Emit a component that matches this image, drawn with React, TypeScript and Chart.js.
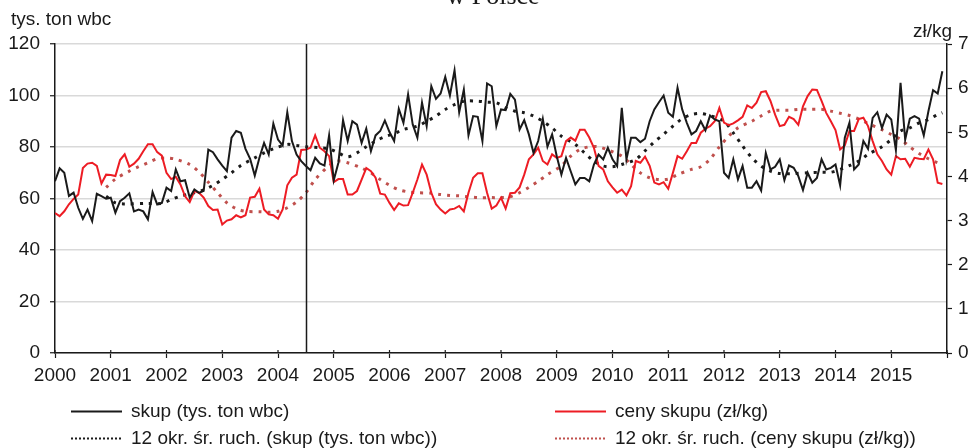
import React, { useEffect, useRef } from 'react';
import { Chart, registerables } from 'chart.js';

Chart.register(...registerables);

// ---- data ----
const yearLabels = ['2000', '2001', '2002', '2003', '2004', '2005', '2006', '2007', '2008', '2009', '2010', '2011', '2012', '2013', '2014', '2015'];

// monthly purchase volume (tys. ton wbc), Jan 2000 .. Dec 2015
const skupValues = [
  66.7, 71.7, 70, 61, 62.3, 56.4, 52.1, 55.7, 51.2, 61.8, 60.9, 59.9,
  60.3, 54.5, 59, 60.3, 62, 55, 55.7, 55, 51.9, 62.5, 57.7, 58.3,
  64.2, 62.9, 71.3, 66.7, 67.1, 60.3, 63.5, 62.2, 63, 79, 78, 75.2,
  72.8, 70.6, 83.6, 86.2, 85.5, 79.3, 75.4, 68.9, 75.8, 81.6, 77.1, 89.1,
  82.9, 80.6, 93.5, 82.3, 77.1, 74.5, 72.6, 71, 75.8, 73.6, 72.8, 84.5,
  67.1, 73.9, 90.4, 82.3, 90, 88.7, 81.6, 87.1, 78.4, 84.5, 86.2, 90.3,
  85.8, 82.3, 94.8, 89.4, 100.4, 88.7, 83.6, 97.2, 88.1, 103.6, 98.7, 100.8,
  107.2, 100, 109.8, 93.5, 102.3, 84.5, 92, 91.7, 82.3, 104.7, 103.6, 88.1,
  94.6, 94.3, 100.6, 98.4, 86.8, 90.4, 84.9, 77.7, 82.3, 90.9, 80.1, 84.9,
  76.4, 69.3, 75.8, 70.6, 65.5, 68, 68, 66.7, 73.2, 77.1, 75.2, 79.7,
  75.2, 72.6, 95.2, 75.2, 83.6, 83.6, 81.9, 83.2, 90, 94.6, 97.4, 100,
  93.3, 91.7, 103, 94.6, 89.4, 84.9, 86.2, 90, 86.5, 92.2, 90.7, 90,
  70, 68, 75.2, 67.4, 72.6, 64.2, 64.2, 66.7, 63.1, 77.7, 71.3, 72.3,
  75.2, 67.1, 72.8, 71.9, 68.7, 63.3, 70, 66.1, 68, 75.2, 71.3, 71.9,
  73.2, 65.1, 83.6, 89.4, 71.3, 73.2, 82.3, 79.3, 91.3, 93.5, 87.4, 92.6,
  90.7, 78.8, 104.9, 82.9, 91, 92, 91, 84.5, 93.9, 102.1, 100.8, 109.4,
];

// monthly purchase price (zł/kg), Jan 2000 .. Dec 2015
const cenyValues = [
  3.17, 3.10, 3.21, 3.37, 3.49, 3.59, 4.19, 4.29, 4.31, 4.24, 3.84, 4.04,
  4.03, 4.01, 4.37, 4.50, 4.22, 4.29, 4.40, 4.57, 4.73, 4.73, 4.55, 4.47,
  4.08, 3.94, 3.99, 3.82, 3.55, 3.42, 3.67, 3.63, 3.52, 3.33, 3.24, 3.25,
  2.91, 3.00, 3.03, 3.12, 3.07, 3.12, 3.52, 3.54, 3.72, 3.25, 3.14, 3.12,
  3.04, 3.25, 3.80, 3.97, 4.04, 4.60, 4.61, 4.65, 4.93, 4.65, 4.57, 4.46,
  3.87, 3.94, 3.94, 3.59, 3.59, 3.67, 3.93, 4.19, 4.12, 3.97, 3.61, 3.59,
  3.40, 3.24, 3.39, 3.34, 3.35, 3.63, 3.93, 4.27, 4.04, 3.63, 3.37, 3.25,
  3.16, 3.25, 3.27, 3.33, 3.21, 3.63, 3.97, 4.07, 4.07, 3.63, 3.27, 3.34,
  3.52, 3.27, 3.62, 3.63, 3.75, 4.04, 4.39, 4.50, 4.65, 4.35, 4.27, 4.50,
  4.42, 4.46, 4.80, 4.88, 4.81, 5.06, 5.06, 4.88, 4.65, 4.24, 4.16, 3.89,
  3.75, 3.63, 3.70, 3.57, 3.78, 4.35, 4.31, 4.45, 4.24, 3.86, 3.82, 3.87,
  3.72, 4.08, 4.46, 4.40, 4.57, 4.76, 4.76, 4.99, 5.08, 5.14, 5.25, 5.55,
  5.22, 5.16, 5.20, 5.27, 5.35, 5.61, 5.55, 5.67, 5.91, 5.93, 5.71, 5.40,
  5.14, 5.17, 5.35, 5.30, 5.17, 5.59, 5.82, 5.97, 5.96, 5.71, 5.44, 5.25,
  5.05, 4.61, 4.70, 5.03, 5.03, 5.30, 5.33, 5.14, 4.80, 4.50, 4.35, 4.16,
  4.04, 4.46, 4.39, 4.40, 4.22, 4.42, 4.40, 4.39, 4.61, 4.39, 3.86, 3.83,
];

// 12-period moving average of skup, read at these months (index from Jan 2000)
const skupMaMonths = [11, 13, 15, 20, 23, 25, 27, 30, 32, 34, 36, 38, 40, 43, 45, 47, 50, 52, 54, 57, 59, 61, 63, 65, 67, 69, 71, 73, 75, 78, 80, 82, 84, 86, 88, 91, 93, 95, 97, 99, 101, 103, 105, 107, 109, 112, 114, 116, 118, 120, 122, 125, 127, 129, 131, 133, 135, 137, 139, 141, 144, 146, 148, 150, 152, 154, 156, 159, 162, 165, 167, 169, 171, 173, 175, 178, 180, 182, 184, 186, 188, 190, 191];
const skupMaValues = [60.9, 58.3, 57.9, 58.1, 58.1, 59.6, 60.9, 62.2, 63.3, 65.1, 67.4, 70, 72.8, 75.8, 77.7, 79.3, 81, 80.6, 80.1, 79.7, 79.3, 77.7, 76.2, 77.7, 80.1, 82.3, 84, 85.2, 86.8, 88.1, 90, 92, 94.6, 96.5, 97.8, 97.8, 97.4, 97.2, 95.2, 93.9, 93.3, 92, 90, 87.4, 84.2, 81, 77.7, 74.5, 72.6, 72.3, 73.2, 75.2, 78.5, 82, 84.9, 88.1, 91, 92.6, 93, 92.2, 90, 85.5, 80.4, 75.8, 72.6, 70.6, 69.7, 69.7, 70, 70.2, 70.2, 71.3, 72.8, 74.5, 77.1, 80.1, 82.9, 86.2, 87.4, 89.4, 90.7, 92.6, 93.3];

// 12-period moving average of ceny skupu, read at these months
const cenyMaMonths = [11, 13, 16, 18, 20, 22, 24, 26, 29, 31, 33, 35, 37, 39, 41, 44, 46, 48, 50, 52, 54, 56, 59, 61, 63, 66, 68, 70, 72, 74, 76, 78, 81, 83, 85, 87, 89, 91, 94, 96, 98, 100, 102, 104, 106, 109, 111, 113, 115, 117, 119, 122, 124, 126, 128, 130, 132, 134, 137, 139, 141, 143, 145, 147, 150, 152, 154, 156, 158, 160, 162, 165, 167, 169, 171, 173, 175, 178, 180, 182, 184, 186, 188, 190, 191];
const cenyMaValues = [3.75, 3.94, 4.12, 4.22, 4.31, 4.40, 4.42, 4.39, 4.27, 4.10, 3.87, 3.63, 3.40, 3.27, 3.21, 3.20, 3.19, 3.21, 3.29, 3.42, 3.63, 3.93, 4.24, 4.35, 4.31, 4.19, 4.08, 3.93, 3.80, 3.70, 3.65, 3.63, 3.62, 3.59, 3.57, 3.56, 3.54, 3.52, 3.52, 3.52, 3.54, 3.63, 3.75, 3.89, 4.04, 4.24, 4.46, 4.61, 4.67, 4.67, 4.60, 4.46, 4.27, 4.08, 3.97, 3.93, 3.94, 4.04, 4.16, 4.22, 4.39, 4.67, 4.91, 5.10, 5.25, 5.37, 5.48, 5.50, 5.50, 5.52, 5.52, 5.52, 5.48, 5.43, 5.38, 5.30, 5.20, 5.06, 4.95, 4.84, 4.67, 4.52, 4.40, 4.31, 4.29];

const markerMonth = 54; // mid-2004

const seriesLabels = [
  'skup (tys. ton wbc)',
  'ceny skupu (zł/kg)',
  '12 okr. śr. ruch. (skup (tys. ton wbc))',
  '12 okr. śr. ruch. (ceny skupu (zł/kg))',
];
const leftTitle = 'tys. ton wbc';
const rightTitle = 'zł/kg';
const topTitle = 'w Polsce';

const FONT = "'Liberation Sans', Arial, sans-serif";
const TEXT = '#1a1a1a';
const BLACK = '#1a1a1a';
const RED = '#ed1c24';
const RED_MA = '#c0504d';

const overlayPlugin = {
  id: 'overlay',
  afterDatasetsDraw(chart: any) {
    const ctx = chart.ctx;
    const area = chart.chartArea;
    const xs = chart.scales.x;
    ctx.save();
    // vertical marker line
    const mx = Math.round(xs.getPixelForValue(markerMonth)) + 0.5;
    ctx.strokeStyle = BLACK;
    ctx.lineWidth = 1.5;
    ctx.beginPath();
    ctx.moveTo(mx, area.top);
    ctx.lineTo(mx, area.bottom);
    ctx.stroke();
    // inner part of x ticks
    ctx.lineWidth = 1.2;
    for (let m = 0; m <= 192; m += 12) {
      const px = xs.getPixelForValue(m);
      ctx.beginPath();
      ctx.moveTo(px, area.bottom - 3);
      ctx.lineTo(px, area.bottom);
      ctx.stroke();
    }
    ctx.restore();
  },
  afterDraw(chart: any) {
    const ctx = chart.ctx;
    ctx.save();
    ctx.fillStyle = TEXT;
    // titles
    ctx.font = `19px ${FONT}`;
    ctx.textBaseline = 'alphabetic';
    ctx.textAlign = 'left';
    ctx.fillText(leftTitle, 11, 25);
    ctx.textAlign = 'right';
    ctx.fillText(rightTitle, 952, 37);
    ctx.font = "26px 'Liberation Serif', 'Times New Roman', serif";
    ctx.textAlign = 'center';
    ctx.fillText(topTitle, 493, 4);
    // legend
    const ds = chart.data.datasets;
    const items = [
      { i: 0, x: 71, y: 411 },
      { i: 1, x: 555, y: 411 },
      { i: 2, x: 71, y: 438 },
      { i: 3, x: 555, y: 438 },
    ];
    ctx.font = `19px ${FONT}`;
    ctx.textAlign = 'left';
    ctx.textBaseline = 'middle';
    for (const it of items) {
      const d = ds[it.i];
      ctx.strokeStyle = d.borderColor;
      ctx.lineWidth = 2;
      ctx.setLineDash(d.borderDash && d.borderDash.length ? [2, 2] : []);
      ctx.beginPath();
      ctx.moveTo(it.x, it.y + 0.5);
      ctx.lineTo(it.x + 51, it.y + 0.5);
      ctx.stroke();
      ctx.setLineDash([]);
      ctx.fillStyle = TEXT;
      ctx.fillText(d.label, it.x + 60, it.y + 1);
    }
    ctx.restore();
  },
};

export default function App() {
  const ref = useRef<HTMLCanvasElement>(null);
  useEffect(() => {
    if (!ref.current) return;
    Chart.defaults.font.family = FONT;
    Chart.defaults.font.size = 19;
    Chart.defaults.color = TEXT;
    const chart = new Chart(ref.current, {
      type: 'line',
      data: {
        datasets: [
          {
            label: seriesLabels[0],
            data: skupValues.map((v, i) => ({ x: i, y: v })),
            borderColor: BLACK,
            borderWidth: 2,
            pointRadius: 0,
            yAxisID: 'y',
            tension: 0,
          },
          {
            label: seriesLabels[1],
            data: cenyValues.map((v, i) => ({ x: i, y: v })),
            borderColor: RED,
            borderWidth: 2,
            pointRadius: 0,
            yAxisID: 'y1',
            tension: 0,
          },
          {
            label: seriesLabels[2],
            data: skupMaMonths.map((m, i) => ({ x: m, y: skupMaValues[i] })),
            borderColor: BLACK,
            borderWidth: 3,
            borderDash: [3, 6],
            pointRadius: 0,
            yAxisID: 'y',
            tension: 0.3,
          },
          {
            label: seriesLabels[3],
            data: cenyMaMonths.map((m, i) => ({ x: m, y: cenyMaValues[i] })),
            borderColor: RED_MA,
            borderWidth: 3,
            borderDash: [3, 6],
            pointRadius: 0,
            yAxisID: 'y1',
            tension: 0.3,
          },
        ],
      },
      options: {
        animation: false,
        responsive: false,
        devicePixelRatio: 1,
        layout: { padding: { top: 44, left: 0, right: 0, bottom: 0 } },
        plugins: {
          legend: { display: false },
          tooltip: { enabled: false },
          title: { display: false },
        },
        scales: {
          x: {
            type: 'linear',
            min: 0,
            max: 192,
            ticks: {
              stepSize: 12,
              autoSkip: false,
              maxRotation: 0,
              padding: 6,
              color: TEXT,
              callback: (v: any) => yearLabels[Math.round(v / 12)] ?? '',
            },
            grid: { display: true, drawOnChartArea: false, tickLength: 5, tickColor: BLACK, tickWidth: 1.2 },
            border: { display: true, color: BLACK, width: 1.5 },
            afterFit: (s: any) => { s.height = 95; },
          },
          y: {
            position: 'left',
            min: 0,
            max: 120,
            ticks: { stepSize: 20, padding: 10, color: TEXT },
            grid: { color: '#d9d9d9', lineWidth: 1.5, tickColor: BLACK, tickLength: 5, tickWidth: 1.2 },
            border: { display: true, color: BLACK, width: 1.5 },
            afterFit: (s: any) => { s.width = 55; },
          },
          y1: {
            position: 'right',
            min: 0,
            max: 7,
            ticks: { stepSize: 1, padding: 6, color: TEXT },
            grid: { drawOnChartArea: false, tickColor: BLACK, tickLength: 5, tickWidth: 1.2 },
            border: { display: true, color: BLACK, width: 1.5 },
            afterFit: (s: any) => { s.width = 28; },
          },
        },
      },
      plugins: [overlayPlugin],
    } as any);
    return () => chart.destroy();
  }, []);
  return (
    <div style={{ position: 'absolute', left: 0, top: 0, width: 975, height: 448, background: '#fff' }}>
      <canvas ref={ref} width={975} height={448} style={{ width: 975, height: 448, display: 'block' }} />
    </div>
  );
}
